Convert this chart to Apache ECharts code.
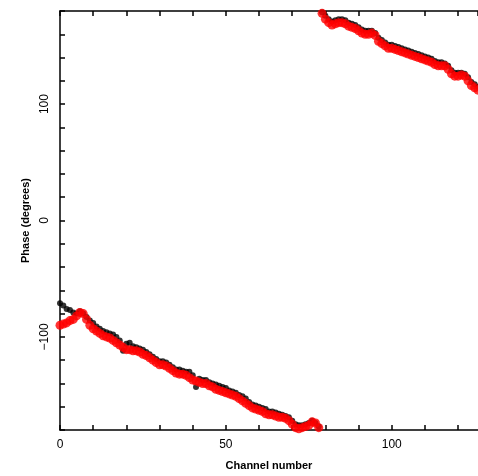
<!DOCTYPE html>
<html>
<head>
<meta charset="utf-8">
<script src="https://cdn.jsdelivr.net/npm/echarts@6/dist/echarts.min.js"></script>
<style>
html,body{margin:0;padding:0;background:#fff;}
#c{width:478px;height:476px;}
</style>
</head>
<body>
<div id="c"></div>
<script>
// Phase (degrees) per channel, starting at channel 0
const redPhase = [
  -90,-89,-88,-86,-85,-82,-79,-80,-85,-90,
  -93,-95,-97,-99,-100,-101,-103,-105,-107,-109,
  -111,-111,-112,-112,-113,-115,-116,-118,-120,-122,
  -124,-124,-125,-127,-129,-131,-132,-132,-133,-135,
  -137,-138,-139,-140,-140,-142,-143,-145,-146,-147,
  -148,-149,-150,-151,-153,-155,-157,-159,-161,-162,
  -163,-164,-166,-167,-167,-168,-169,-169,-170,-172,
  -175,-178,-179,-178,-177,-176,-173,-174,-178,
  178,173,170,168,169,170,170,169,167,166,
  165,163,161,160,160,161,159,154,152,150,
  148,148,147,146,145,144,143,142,141,140,
  139,138,137,136,134,133,133,133,130,126,
  124,124,125,124,120,116,114,112
];
const blackPhase = [
  -71,-73,-76,-77,-79,-80,-78,-80,-83,-86,
  -88,-91,-93,-95,-96,-97,-98,-100,-103,-112,
  -106,-105,-108,-109,-110,-111,-113,-115,-117,-119,
  -121,-121,-122,-124,-126,-128,-128,-129,-130,-130,
  -133,-143,-136,-137,-137,-139,-140,-141,-142,-143,
  -144,-146,-147,-148,-150,-151,-153,-156,-158,-159,
  -160,-161,-162,-164,-164,-165,-166,-167,-168,-169,
  -172,-175,-176,-176,-175,-174,-172,-174,-177,
  179,176,173,171,172,173,173,172,170,169,
  168,166,164,163,163,163,161,157,155,153,
  151,151,150,149,148,147,146,145,144,143,
  142,141,140,139,137,136,136,135,133,129,
  127,127,127,126,123,119,117,115
];
const xLabels = [0, 50, 100];
const yLabels = [-100, 0, 100];
const xName = 'Channel number';
const yName = 'Phase (degrees)';

const redData = redPhase.map((v, i) => [i, v]);
const blackData = blackPhase.map((v, i) => [i, v]);

const chart = echarts.init(document.getElementById('c'), null, {renderer: 'canvas'});
const font = 'Liberation Sans';
const axisLineStyle = {color: '#000', width: 1.5};
chart.setOption({
  animation: false,
  backgroundColor: '#fff',
  grid: {left: 60, top: 11, width: 421, height: 419, containLabel: false},
  xAxis: [{
    type: 'value', min: 0, max: 126, interval: 10, position: 'bottom',
    name: xName, nameLocation: 'middle', nameGap: 30,
    nameTextStyle: {fontFamily: font, fontSize: 11, fontWeight: 'bold', color: '#000'},
    axisLine: {show: true, onZero: false, lineStyle: axisLineStyle},
    axisTick: {show: true, inside: true, length: 5, lineStyle: {color: '#000', width: 1.5}},
    axisLabel: {show: true, margin: 9, fontFamily: font, fontSize: 12, color: '#000',
      formatter: v => xLabels.includes(v) ? String(v) : '', showMaxLabel: false},
    splitLine: {show: false}
  }, {
    type: 'value', min: 0, max: 126, interval: 10, position: 'top',
    axisLine: {show: true, onZero: false, lineStyle: axisLineStyle},
    axisTick: {show: true, inside: true, length: 5, lineStyle: {color: '#000', width: 1.5}},
    axisLabel: {show: false},
    splitLine: {show: false}
  }],
  yAxis: {
    type: 'value', min: -180, max: 180, interval: 20,
    name: yName, nameLocation: 'middle', nameGap: 27, nameRotate: 90,
    nameTextStyle: {fontFamily: font, fontSize: 11, fontWeight: 'bold', color: '#000'},
    axisLine: {show: true, onZero: false, lineStyle: axisLineStyle},
    axisTick: {show: true, inside: true, length: 5, lineStyle: {color: '#000', width: 1.5}},
    axisLabel: {show: true, margin: 9, rotate: 90, fontFamily: font, fontSize: 12, color: '#000',
      formatter: v => yLabels.includes(v) ? (v < 0 ? '\u2212' + Math.abs(v) : String(v)) : ''},
    splitLine: {show: false}
  },
  series: [{
    type: 'scatter', name: 'black', data: blackData, symbol: 'circle', symbolSize: 6,
    itemStyle: {color: '#000'}, z: 2, clip: true
  }, {
    type: 'scatter', name: 'red', data: redData, symbol: 'circle', symbolSize: 9,
    itemStyle: {color: '#ff0000'}, z: 3, clip: true
  }]
});
</script>
</body>
</html>
